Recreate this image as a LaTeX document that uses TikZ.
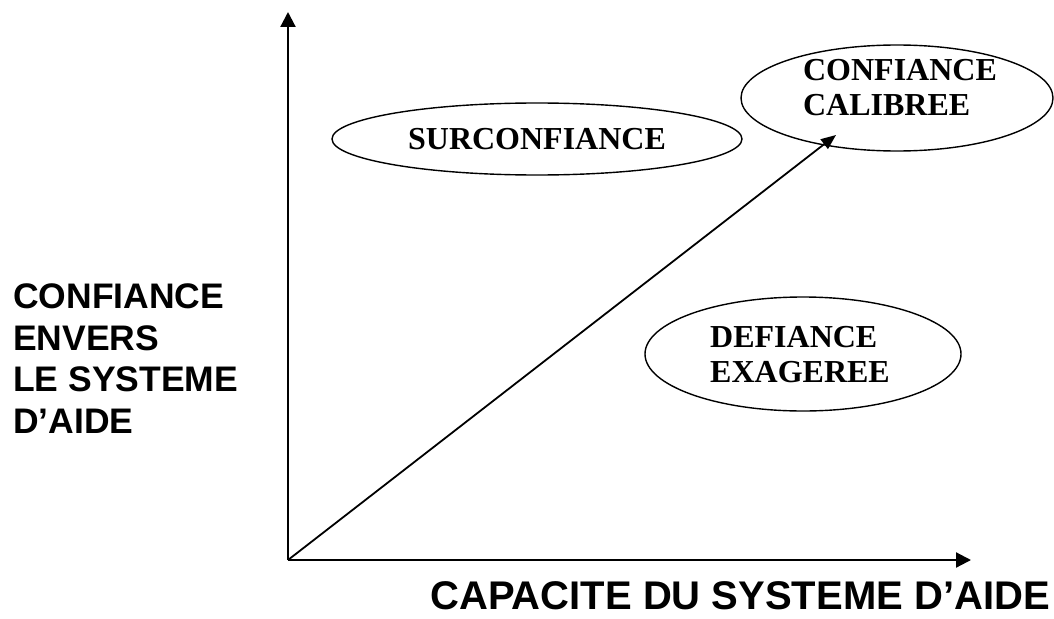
\documentclass[tikz,border=0pt]{standalone}
\usepackage{fontspec}
\setmainfont{Liberation Serif}
\newfontfamily\arialfont{Liberation Sans}
\usetikzlibrary{arrows.meta,shapes.geometric}
\tikzset{
  axis/.style={line width=2.2pt,-{Triangle[length=15pt,width=15pt]}},
  diag/.style={line width=1.8pt,-{Triangle[length=15pt,width=12pt]}},
  oval/.style={ellipse,draw,line width=1.4pt,inner sep=0pt},
  serifb/.style={font=\fontsize{32}{35}\selectfont\bfseries,align=left,inner sep=0pt},
  sansb/.style={font=\arialfont\fontsize{35.5}{41.5}\selectfont\bfseries,align=left,inner sep=0pt},
  sansbig/.style={font=\arialfont\fontsize{40}{44}\selectfont\bfseries,inner sep=0pt,text depth=0pt}
}
\begin{document}
\begin{tikzpicture}[x=1pt,y=-1pt]
\useasboundingbox (0,0) rectangle (1054,618);
\coordinate (O) at (288,560);
\coordinate (ytip) at (288,12);
\coordinate (xtip) at (971,560);
\coordinate (dtip) at (836,135);
\draw[axis] (O) -- (ytip);
\draw[axis] (O) -- (xtip);
\draw[diag] (O) -- (dtip);
\node[oval,minimum width=410pt,minimum height=72pt] (sur) at (537,139) {};
\node[serifb] (surt) at (537,139) {SURCONFIANCE};
\node[oval,minimum width=312pt,minimum height=106pt] (cal) at (897,98) {};
\node[serifb] (calt) at (900,88) {CONFIANCE\\CALIBREE};
\node[oval,minimum width=316pt,minimum height=114pt] (def) at (803,354) {};
\node[serifb] (deft) at (800,355) {DEFIANCE\\EXAGEREE};
\node[sansb,anchor=north west] (ylab) at (13,284) {CONFIANCE\\ENVERS\\LE SYSTEME\\D’AIDE};
\node[sansbig,anchor=base east] (xlab) at (1050,609) {CAPACITE DU SYSTEME D’AIDE};
\end{tikzpicture}
\end{document}
